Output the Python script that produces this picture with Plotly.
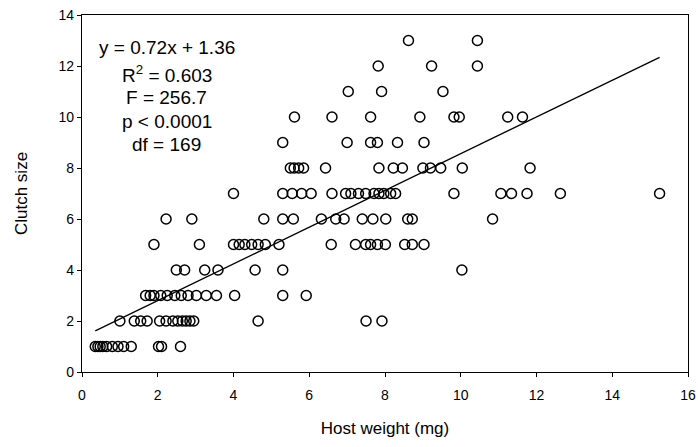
import plotly.graph_objects as go

# Clutch size rows (y value) and host weights (mg)
x_y1 = [0.35, 0.42, 0.48, 0.55, 0.65, 0.8, 0.95, 1.1, 1.3, 2.02, 2.1, 2.6]
x_y2 = [1.0, 1.38, 1.55, 1.72, 2.05, 2.22, 2.4, 2.53, 2.65, 2.75, 2.85, 2.95, 4.65, 7.5, 7.92]
x_y3 = [1.68, 1.8, 1.9, 2.08, 2.25, 2.45, 2.62, 2.8, 3.02, 3.28, 3.55, 4.03, 5.3, 5.92]
x_y4 = [2.49, 2.71, 3.24, 3.59, 4.57, 5.3, 10.03]
x_y5 = [1.9, 3.1, 4.0, 4.15, 4.3, 4.48, 4.65, 4.84, 5.2, 6.58, 7.22, 7.49, 7.62, 7.8, 8.01, 8.52, 8.72, 9.03]
x_y6 = [2.22, 2.9, 4.8, 5.3, 5.58, 6.32, 6.7, 6.92, 7.4, 7.68, 8.02, 8.6, 8.72, 10.84]
x_y7 = [4.0, 5.3, 5.55, 5.8, 6.05, 6.6, 6.96, 7.1, 7.3, 7.49, 7.71, 7.84, 7.97, 8.15, 8.28, 9.82,
        11.06, 11.34, 11.75, 12.63, 15.25]
x_y8 = [5.5, 5.6, 5.72, 5.85, 6.43, 7.84, 8.22, 8.46, 9.0, 9.2, 9.47, 10.04, 11.83]
x_y9 = [5.3, 7.0, 7.62, 7.8, 8.33, 9.03]
x_y10 = [5.61, 6.6, 7.62, 8.92, 9.82, 9.96, 11.24, 11.63]
x_y11 = [7.03, 7.91, 9.53]
x_y12 = [7.82, 9.23, 10.44]
x_y13 = [8.62, 10.44]

rows = {1: x_y1, 2: x_y2, 3: x_y3, 4: x_y4, 5: x_y5, 6: x_y6, 7: x_y7,
        8: x_y8, 9: x_y9, 10: x_y10, 11: x_y11, 12: x_y12, 13: x_y13}

host_weight = []
clutch_size = []
for yv, xs in rows.items():
    host_weight += xs
    clutch_size += [yv] * len(xs)

slope = 0.72
intercept = 1.36
stats_lines = ["y = 0.72x + 1.36", "R<sup>2</sup> = 0.603", "F = 256.7", "p < 0.0001", "df = 169"]
stats_y = [12.72, 11.69, 10.77, 9.82, 8.94]

x_ticks = [0, 2, 4, 6, 8, 10, 12, 14, 16]
y_ticks = [0, 2, 4, 6, 8, 10, 12, 14]

fit_x = [min(host_weight), max(host_weight)]
fit_y = [slope * v + intercept for v in fit_x]

font = "Liberation Sans, Arial, sans-serif"

fig = go.Figure()
fig.add_trace(go.Scatter(
    x=host_weight, y=clutch_size, mode="markers",
    marker=dict(symbol="circle-open", size=10, color="black", line=dict(width=1.5, color="black")),
    showlegend=False, hoverinfo="skip"))
fig.add_trace(go.Scatter(
    x=fit_x, y=fit_y, mode="lines", line=dict(color="black", width=1.3),
    showlegend=False, hoverinfo="skip"))

for txt, yy in zip(stats_lines, stats_y):
    fig.add_annotation(x=2.24, y=yy, xref="x", yref="y", text=txt, showarrow=False,
                       font=dict(family=font, size=19, color="black"), xanchor="center", yanchor="middle")

fig.update_layout(
    width=698, height=447,
    margin=dict(l=82, r=10, t=15, b=75),
    paper_bgcolor="white", plot_bgcolor="white",
    font=dict(family=font, color="black"),
)
fig.update_xaxes(
    range=[0, 16], tickvals=x_ticks, ticktext=[str(v) for v in x_ticks],
    showgrid=False, zeroline=False, automargin=False,
    showline=True, linecolor="black", linewidth=1.2, mirror=True,
    ticks="outside", ticklen=4, tickcolor="black", ticklabelstandoff=6,
    tickfont=dict(family=font, size=14),
    title=dict(text="Host weight (mg)", font=dict(family=font, size=17), standoff=20),
)
fig.update_yaxes(
    range=[0, 14], tickvals=y_ticks, ticktext=[str(v) for v in y_ticks],
    showgrid=False, zeroline=False, automargin=False,
    showline=True, linecolor="black", linewidth=1.2, mirror=True,
    ticks="outside", ticklen=4, tickcolor="black",
    tickfont=dict(family=font, size=14),
    title=dict(text="Clutch size", font=dict(family=font, size=17), standoff=26),
)

fig.write_html("out.html", config={"displayModeBar": False},
               post_script="document.body.style.margin='0';document.body.style.overflow='hidden';")
